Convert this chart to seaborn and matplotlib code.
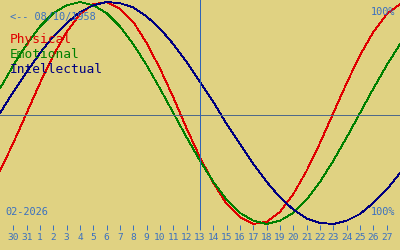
import matplotlib
matplotlib.use("Agg")
import matplotlib.pyplot as plt
import seaborn as sns
import pandas as pd

# Day index 0 = Jan 29 ... 30 = Feb 28 (2026); today = Feb 13 (index 15)
days = list(range(31))
physical = [-0.52, -0.27, 0.00, 0.27, 0.52, 0.73, 0.89, 0.98, 1.00, 0.94,
            0.82, 0.63, 0.40, 0.14, -0.14, -0.40, -0.63, -0.82, -0.94, -1.00,
            -0.98, -0.89, -0.73, -0.52, -0.27, 0.00, 0.27, 0.52, 0.73, 0.89, 0.98]
emotional = [0.22, 0.43, 0.62, 0.78, 0.90, 0.97, 1.00, 0.97, 0.90, 0.78,
             0.62, 0.43, 0.22, 0.00, -0.22, -0.43, -0.62, -0.78, -0.90, -0.97,
             -1.00, -0.97, -0.90, -0.78, -0.62, -0.43, -0.22, 0.00, 0.22, 0.43, 0.62]
intellectual = [0.00, 0.19, 0.37, 0.54, 0.69, 0.81, 0.91, 0.97, 1.00, 0.99,
                0.95, 0.87, 0.76, 0.62, 0.46, 0.28, 0.10, -0.10, -0.28, -0.46,
                -0.62, -0.76, -0.87, -0.95, -0.99, -1.00, -0.97, -0.91, -0.81, -0.69, -0.54]
tick_days = list(range(1, 30))
tick_labels = ["30", "31"] + [str(i) for i in range(1, 28)]
today = 15
series_names = ["Physical", "Emotional", "Intellectual"]
series_colors = ["#e00000", "#008000", "#000080"]
birth_label = "<-- 08/10/1958"
month_label = "02-2026"

BG = "#e0d282"
BLUE = "#3a70c0"

sns.set_theme(style="white")
plt.rcParams["font.family"] = ["DejaVu Sans Mono", "DejaVu Sans"]

fig = plt.figure(figsize=(4, 2.5), dpi=100, facecolor=BG)
ax = fig.add_axes([0, 20 / 250, 1, 230 / 250])
ax.set_facecolor(BG)

df = pd.DataFrame({"day": days * 3,
                   "value": physical + emotional + intellectual,
                   "kind": [n for n in series_names for _ in days]})
sns.lineplot(data=df, x="day", y="value", hue="kind", palette=series_colors,
             hue_order=series_names, linewidth=0.6, legend=False, ax=ax,
             antialiased=False)

ax.axhline(-0.018, color="#4f6a8a", linewidth=0.72, antialiased=False)
ax.axvline(today, color="#2f64b8", linewidth=0.72, antialiased=False)

ax.set_xlim(0, 30)
ax.set_ylim(-1.054, 1.018)
for s in ax.spines.values():
    s.set_visible(False)
ax.set_xticks(tick_days)
ax.set_xticklabels(tick_labels)
ax.tick_params(axis="x", direction="in", length=3.6, width=0.72, color=BLUE,
               labelcolor=BLUE, labelsize=6.8, pad=2.0, bottom=True)
ax.set_yticks([])
ax.set_xlabel("")
ax.set_ylabel("")

ax.text(10 / 400, 1 - 17 / 230, birth_label, transform=ax.transAxes,
        color=BLUE, fontsize=7.4, va="center", ha="left")
ys = [43, 58, 73]
for name, col, yb in zip(series_names, series_colors, ys):
    ax.text(10 / 400, 1 - yb / 230, name, transform=ax.transAxes, color=col,
            fontsize=9.3, va="baseline", ha="left")
ax.text(395 / 400, 1 - 12 / 230, "100%", transform=ax.transAxes, color=BLUE,
        fontsize=7.4, va="center", ha="right")
ax.text(395 / 400, 1 - 212 / 230, "100%", transform=ax.transAxes, color=BLUE,
        fontsize=7.4, va="center", ha="right")
ax.text(5 / 400, 1 - 212 / 230, month_label, transform=ax.transAxes,
        color=BLUE, fontsize=7.4, va="center", ha="left")

fig.savefig("out.png", dpi=100, facecolor=BG)
